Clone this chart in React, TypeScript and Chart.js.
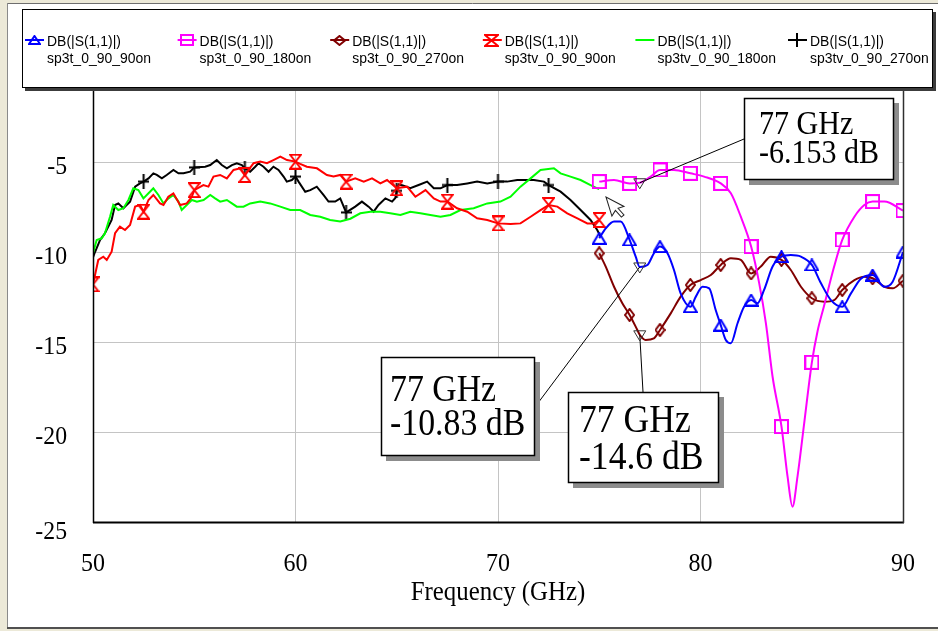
import React, { useEffect, useRef } from 'react';
import { Chart, registerables } from 'chart.js';

Chart.register(...registerables);

type Pt = [number, number];

// |S11| in dB versus frequency (GHz) for each switch state
const sp3t_0_90_90on: Pt[] = [
  [75, -9.24], [75.32, -8.69], [75.73, -8.31], [76.06, -8.31], [76.5, -9.33], [76.8, -10.26],
  [77, -10.83], [77.38, -10.72], [77.7, -10.07], [78, -9.7], [78.37, -10.07], [78.69, -11.0],
  [79.02, -12.3], [79.5, -13.04], [79.77, -12.48], [80.1, -11.93], [80.43, -12.02], [80.75, -13.22],
  [81, -14.06], [81.25, -14.89], [81.5, -15.07], [81.83, -13.96], [82.15, -13.04], [82.5, -12.67],
  [82.81, -12.85], [83.14, -12.11], [83.56, -10.81], [84, -10.26], [84.46, -10.17], [84.96, -10.26],
  [85.5, -10.72], [85.95, -11.74], [86.44, -12.67], [87, -13.04], [87.43, -12.3], [87.92, -11.48],
  [88.5, -11.28], [89.08, -11.93], [89.49, -11.65], [90, -10.0],
];

const sp3t_0_90_180on: Pt[] = [
  [75, -6.09], [75.73, -6.0], [76.5, -6.19], [77, -6.153], [77.54, -5.81], [78, -5.44],
  [78.69, -5.44], [79.5, -5.63], [80.18, -5.81], [81, -6.19], [81.5, -6.74], [81.99, -8.04],
  [82.5, -9.7], [82.9, -11.74], [83.23, -13.96], [83.56, -16.93], [84, -19.7], [84.3, -22.48],
  [84.54, -24.15], [84.79, -22.48], [85.12, -19.52], [85.5, -16.13], [85.78, -14.4], [86.1, -13.0],
  [86.6, -10.81], [87, -9.33], [87.6, -8.04], [88.09, -7.39], [88.5, -7.2], [89.08, -7.2], [90, -7.7],
];

const sp3t_0_90_270on: Pt[] = [
  [75, -10.07], [75.32, -10.81], [75.73, -11.93], [76.14, -12.85], [76.5, -13.5], [76.88, -14.33],
  [77, -14.6], [77.29, -14.89], [77.7, -14.8], [78, -14.33], [78.53, -13.41], [79.02, -12.48],
  [79.5, -11.83], [80.01, -11.56], [80.51, -11.28], [81, -10.72], [81.5, -10.35], [81.99, -10.44],
  [82.5, -11.19], [82.98, -10.81], [83.47, -10.26], [84, -10.44], [84.46, -11.0], [84.96, -11.93],
  [85.5, -12.57], [86.11, -12.76], [86.6, -12.67], [87, -12.11], [87.6, -11.56], [88.09, -11.37],
  [88.5, -11.46], [89.08, -11.93], [89.49, -12.02], [90, -11.6],
];

const sp3tv_0_90_90on: Pt[] = [
  [50, -11.8], [50.26, -10.44], [50.51, -10.26], [50.68, -10.44], [50.92, -9.98], [51.09, -8.96],
  [51.33, -8.59], [51.58, -8.78], [51.83, -8.5], [52.08, -7.48], [52.32, -7.39], [52.5, -7.76],
  [52.74, -7.11], [52.98, -6.83], [53.31, -7.3], [53.48, -7.39], [53.72, -6.93], [53.97, -6.74],
  [54.3, -7.39], [54.63, -7.3], [54.88, -6.93], [55, -6.56], [55.45, -6.28], [55.7, -6.37],
  [55.95, -5.81], [56.28, -5.72], [56.61, -5.91], [56.94, -5.44], [57.27, -5.35], [57.5, -5.72],
  [57.93, -5.07], [58.26, -4.98], [58.59, -5.07], [58.91, -4.89], [59.25, -4.7], [59.58, -4.89],
  [60, -4.98], [60.23, -5.1], [60.56, -5.26], [61.06, -5.35], [61.55, -5.72], [61.88, -5.81],
  [62.21, -5.72], [62.5, -6.09], [62.95, -5.91], [63.37, -6.09], [63.78, -5.91], [64.19, -6.19],
  [64.52, -6.0], [65, -6.46], [65.51, -6.37], [65.92, -6.93], [66.42, -6.56], [66.83, -7.02],
  [67.16, -7.2], [67.5, -7.2], [67.98, -7.57], [68.48, -7.76], [68.97, -8.13], [69.47, -8.22],
  [70, -8.41], [70.62, -8.44], [71.11, -8.41], [71.61, -8.04], [72.1, -7.67], [72.5, -7.39],
  [72.93, -7.48], [73.42, -7.85], [73.92, -8.13], [74.41, -8.41], [74.74, -8.41], [75, -8.22],
];

const sp3tv_0_90_180on: Pt[] = [
  [50, -10.07], [50.18, -9.33], [50.43, -9.24], [50.59, -8.96], [50.84, -8.04], [51.0, -7.39],
  [51.25, -7.67], [51.5, -7.57], [51.75, -7.11], [51.99, -6.46], [52.24, -6.56], [52.49, -7.02],
  [52.74, -6.74], [52.98, -6.46], [53.23, -6.83], [53.48, -7.3], [53.73, -7.02], [53.97, -6.83],
  [54.22, -7.2], [54.38, -7.67], [54.63, -7.39], [54.88, -7.11], [55.13, -7.2], [55.46, -7.11],
  [55.79, -6.83], [56.03, -7.02], [56.28, -7.2], [56.61, -7.11], [56.86, -7.3], [57.1, -7.48],
  [57.43, -7.48], [57.76, -7.3], [58.26, -7.2], [58.75, -7.3], [59.25, -7.48], [59.74, -7.67],
  [60.23, -7.67], [60.73, -7.94], [61.22, -8.04], [61.71, -8.22], [62.21, -8.31], [62.71, -8.15],
  [63.2, -7.85], [63.7, -7.76], [64.19, -7.76], [64.68, -7.85], [65.18, -7.94], [65.67, -7.76],
  [66.17, -7.85], [66.66, -7.94], [67.16, -8.04], [67.65, -7.94], [68.15, -7.67], [68.8, -7.57],
  [69.47, -7.3], [70.12, -7.2], [70.62, -6.93], [71.11, -6.37], [71.61, -5.91], [72.1, -5.44],
  [72.76, -5.35], [73.09, -5.63], [73.58, -5.81], [74.08, -6.0], [74.57, -6.28], [74.9, -6.46],
  [75, -6.5],
];

const sp3tv_0_90_270on: Pt[] = [
  [50, -10.3], [50.1, -10.0], [50.35, -9.33], [50.59, -8.96], [50.92, -8.22], [51.09, -7.39],
  [51.25, -7.3], [51.5, -7.57], [51.66, -7.39], [51.83, -7.2], [52.08, -6.37], [52.32, -6.19],
  [52.5, -6.09], [52.74, -5.91], [52.98, -5.63], [53.15, -5.72], [53.4, -5.91], [53.64, -5.72],
  [53.97, -5.44], [54.22, -5.63], [54.47, -5.63], [54.8, -5.54], [55, -5.3], [55.54, -5.26],
  [55.79, -5.17], [56.11, -4.89], [56.36, -5.17], [56.61, -5.35], [56.86, -5.17], [57.1, -5.07],
  [57.35, -5.17], [57.5, -5.35], [57.76, -5.54], [58.01, -5.26], [58.17, -5.07], [58.42, -5.26],
  [58.67, -5.54], [58.91, -5.26], [59.16, -5.44], [59.41, -5.81], [59.57, -6.09], [59.82, -6.0],
  [60, -5.81], [60.15, -6.09], [60.48, -6.65], [60.73, -6.56], [61.05, -6.37], [61.38, -6.83],
  [61.63, -7.2], [61.96, -7.2], [62.21, -7.02], [62.5, -7.8], [62.95, -7.48], [63.28, -7.2],
  [63.61, -7.48], [63.86, -7.76], [64.1, -7.39], [64.44, -7.02], [64.77, -7.2], [64.93, -7.0],
  [65, -6.6], [65.1, -6.25], [65.3, -6.3], [65.67, -6.46], [66.08, -6.28], [66.5, -6.09],
  [66.83, -6.46], [67.16, -6.46], [67.5, -6.28], [67.98, -6.28], [68.48, -6.19], [68.97, -6.09],
  [69.47, -6.19], [70, -6.09], [70.45, -6.09], [70.95, -6.0], [71.77, -6.0], [72.27, -6.09],
  [72.5, -6.28], [73.09, -6.65], [73.58, -7.11], [74.08, -7.67], [74.57, -8.22], [74.9, -8.78],
  [75.07, -9.15],
];

// frequencies carrying a symbol on each trace
const sp3tMarkFreqs = [75, 76.5, 78, 79.5, 81, 82.5, 84, 85.5, 87, 88.5, 90];
const sp3tvMarkFreqs = [50, 52.5, 55, 57.5, 60, 62.5, 65, 67.5, 70, 72.5, 75];
const sp3tv270MarkFreqs = [52.5, 55, 57.5, 60, 62.5, 65, 67.5, 70, 72.5];

const xTickValues = [50, 60, 70, 80, 90];
const yTickValues = [-5, -10, -15, -20, -25];
const xAxisTitle = 'Frequency (GHz)';
const measureLabel = 'DB(|S(1,1)|)';
const seriesNames = [
  'sp3t_0_90_90on', 'sp3t_0_90_180on', 'sp3t_0_90_270on',
  'sp3tv_0_90_90on', 'sp3tv_0_90_180on', 'sp3tv_0_90_270on',
];
const seriesColors = ['#0000ff', '#ff00ff', '#800000', '#ff0000', '#00ff00', '#000000'];
const seriesData = [sp3t_0_90_90on, sp3t_0_90_180on, sp3t_0_90_270on, sp3tv_0_90_90on, sp3tv_0_90_180on, sp3tv_0_90_270on];
const seriesMarks = [sp3tMarkFreqs, sp3tMarkFreqs, sp3tMarkFreqs, sp3tvMarkFreqs, [], sp3tv270MarkFreqs];
const seriesSymbols = ['triangle', 'square', 'diamond', 'hourglass', 'none', 'cross'];

// marker readouts: series index and frequency
const readoutSeries = [1, 0, 2];
const readoutFreqs = [77, 77, 77];

type Box = { x: number; y: number; w: number; h: number; ax: number; ay: number; font: number; sx: number; tx: number; b1: number; b2: number };
const readoutBoxes: Box[] = [
  { x: 744, y: 98, w: 150, h: 82, ax: 744, ay: 139, font: 33, sx: 0.91, tx: 15, b1: 36, b2: 65 },
  { x: 381, y: 357, w: 154, h: 99, ax: 535, ay: 407, font: 38, sx: 0.89, tx: 9, b1: 44, b2: 78 },
  { x: 568, y: 392, w: 151, h: 91, ax: 643, ay: 392, font: 40, sx: 0.89, tx: 11, b1: 40, b2: 77 },
];

const symbolSizes: Record<string, [number, number]> = {
  triangle: [15, 13], square: [15, 15], diamond: [11, 14], hourglass: [13, 16], cross: [11, 15],
};
const legendSymbolSizes: Record<string, [number, number]> = {
  triangle: [13, 10], square: [14, 12], diamond: [13, 11], hourglass: [15, 13], cross: [16, 14],
};

function makeSymbol(kind: string, color: string, w: number, h: number, lw = 2): HTMLCanvasElement {
  const c = document.createElement('canvas');
  c.width = w;
  c.height = h;
  const g = c.getContext('2d')!;
  g.strokeStyle = color;
  g.lineWidth = lw;
  const m = lw / 2;
  g.beginPath();
  if (kind === 'triangle') {
    g.moveTo(w / 2, m); g.lineTo(w - m, h - m); g.lineTo(m, h - m); g.closePath();
  } else if (kind === 'square') {
    g.rect(m, m, w - 2 * m, h - 2 * m);
  } else if (kind === 'diamond') {
    g.moveTo(w / 2, m); g.lineTo(w - m, h / 2); g.lineTo(w / 2, h - m); g.lineTo(m, h / 2); g.closePath();
  } else if (kind === 'hourglass') {
    g.moveTo(m, m); g.lineTo(w - m, m); g.lineTo(m, h - m); g.lineTo(w - m, h - m); g.closePath();
  } else if (kind === 'cross') {
    g.moveTo(w / 2, 0); g.lineTo(w / 2, h); g.moveTo(0, h / 2); g.lineTo(w, h / 2);
  }
  g.stroke();
  return c;
}

function drawText(ctx: CanvasRenderingContext2D, s: string, x: number, y: number, font: string, align: CanvasTextAlign, sx = 1) {
  ctx.save();
  ctx.font = font;
  ctx.fillStyle = '#000';
  ctx.textAlign = align;
  ctx.textBaseline = 'alphabetic';
  ctx.translate(x, y);
  ctx.scale(sx, 1);
  ctx.fillText(s, 0, 0);
  ctx.restore();
}

function line(ctx: CanvasRenderingContext2D, x1: number, y1: number, x2: number, y2: number, color: string, width: number) {
  ctx.save();
  ctx.strokeStyle = color;
  ctx.lineWidth = width;
  ctx.beginPath();
  ctx.moveTo(x1, y1);
  ctx.lineTo(x2, y2);
  ctx.stroke();
  ctx.restore();
}

export default function App() {
  const canvasRef = useRef<HTMLCanvasElement | null>(null);

  useEffect(() => {
    const canvas = canvasRef.current;
    if (!canvas) return;

    const chartSymbols = seriesSymbols.map((k, i) =>
      k === 'none' ? null : makeSymbol(k, seriesColors[i], symbolSizes[k][0], symbolSizes[k][1]));
    const legendSymbols = seriesSymbols.map((k, i) =>
      k === 'none' ? null : makeSymbol(k, seriesColors[i], legendSymbolSizes[k][0], legendSymbolSizes[k][1]));

    const smooth = [true, true, true, false, false, false];
    const datasets = seriesData.map((d, i) => ({
      label: seriesNames[i],
      data: d.map(([x, y]) => ({ x, y })),
      borderColor: seriesColors[i],
      borderWidth: 2,
      backgroundColor: 'rgba(0,0,0,0)',
      pointBackgroundColor: 'rgba(0,0,0,0)',
      pointBorderColor: seriesColors[i],
      pointStyle: chartSymbols[i] || 'circle',
      pointRadius: (c: any) => (chartSymbols[i] && seriesMarks[i].includes(c.raw.x) ? 6 : 0),
      cubicInterpolationMode: smooth[i] ? ('monotone' as const) : ('default' as const),
      tension: 0,
      clip: 0,
      fill: false,
    }));

    const framePlugin = {
      id: 'frame',
      beforeDraw(chart: any) {
        const ctx: CanvasRenderingContext2D = chart.ctx;
        ctx.save();
        ctx.fillStyle = '#fff';
        ctx.fillRect(0, 0, 938, 631);
        ctx.fillStyle = '#ece9d8';
        ctx.fillRect(0, 0, 938, 3);
        ctx.fillRect(0, 0, 7, 631);
        ctx.fillRect(0, 629, 938, 2);
        ctx.restore();
        line(ctx, 7, 3.5, 938, 3.5, '#6e6e6e', 1);
        line(ctx, 7.5, 3, 7.5, 629, '#8a8a8a', 1);
        line(ctx, 7, 628, 938, 628, '#505050', 2);
      },
      afterDraw(chart: any) {
        const ctx: CanvasRenderingContext2D = chart.ctx;
        const xs = chart.scales.x;
        const ys = chart.scales.y;
        const a = chart.chartArea;

        // plot frame
        line(ctx, a.left + 0.5, a.top, a.left + 0.5, a.bottom + 1, '#000', 1.5);
        line(ctx, a.left, a.bottom + 0.5, a.right + 1, a.bottom + 0.5, '#000', 2);
        line(ctx, a.right + 0.5, a.top, a.right + 0.5, a.bottom + 1, '#303030', 1.5);

        // marker readouts
        readoutSeries.forEach((si, k) => {
          const f = readoutFreqs[k];
          const pt = seriesData[si].find((p) => p[0] === f)!;
          const px = xs.getPixelForValue(pt[0]);
          const py = ys.getPixelForValue(pt[1]);
          const b = readoutBoxes[k];
          line(ctx, b.ax, b.ay, px, py, '#000', 1);
          ctx.save();
          ctx.strokeStyle = '#333';
          ctx.lineWidth = 1;
          ctx.beginPath();
          ctx.moveTo(px - 6, py - 4);
          ctx.lineTo(px + 6, py - 4);
          ctx.lineTo(px, py + 6);
          ctx.closePath();
          ctx.stroke();
          ctx.fillStyle = '#8c8c8c';
          ctx.fillRect(b.x + 5, b.y + 5, b.w, b.h);
          ctx.fillStyle = '#fff';
          ctx.fillRect(b.x, b.y, b.w, b.h);
          ctx.strokeStyle = '#000';
          ctx.lineWidth = 1.5;
          ctx.strokeRect(b.x + 0.5, b.y + 0.5, b.w - 1, b.h - 1);
          ctx.restore();
          const font = `${b.font}px "Liberation Serif", serif`;
          drawText(ctx, `${pt[0]} GHz`, b.x + b.tx, b.y + b.b1, font, 'left', b.sx);
          drawText(ctx, `${pt[1]} dB`, b.x + b.tx, b.y + b.b2, font, 'left', b.sx);
        });

        // pointer arrow
        ctx.save();
        ctx.translate(606, 197);
        ctx.rotate(-0.3);
        ctx.scale(1.25, 1.25);
        ctx.beginPath();
        const arrow = [[0, 0], [0, 16], [4, 12.5], [7, 19], [9.5, 18], [6.5, 11.5], [11.5, 11.5]];
        arrow.forEach(([x, y], i) => (i ? ctx.lineTo(x, y) : ctx.moveTo(x, y)));
        ctx.closePath();
        ctx.fillStyle = '#fff';
        ctx.fill();
        ctx.strokeStyle = '#222';
        ctx.lineWidth = 0.8;
        ctx.stroke();
        ctx.restore();

        // axis labels
        const tickFont = '25px "Liberation Serif", serif';
        yTickValues.forEach((v) => {
          const y = ys.getPixelForValue(v) + 11.5 + (v === ys.min ? 5 : 0);
          drawText(ctx, String(v), 67, y, tickFont, 'right', 0.95);
        });
        xTickValues.forEach((v) => {
          drawText(ctx, String(v), xs.getPixelForValue(v), 571, tickFont, 'center', 0.96);
        });
        drawText(ctx, xAxisTitle, (a.left + a.right) / 2, 600, '27px "Liberation Serif", serif', 'center', 0.92);

        // legend panel
        const lx = 22, ly = 9, lw = 911, lh = 79;
        ctx.save();
        ctx.fillStyle = '#3c3c3c';
        ctx.fillRect(lx + 3, ly + 3, lw, lh);
        ctx.fillStyle = '#fff';
        ctx.fillRect(lx, ly, lw, lh);
        ctx.strokeStyle = '#000';
        ctx.lineWidth = 1;
        ctx.strokeRect(lx + 0.5, ly + 0.5, lw - 1, lh - 1);
        ctx.restore();
        const legFont = '15px "Liberation Sans", Arial, sans-serif';
        seriesNames.forEach((name, i) => {
          const tx = 47 + i * 152.6;
          line(ctx, tx - 22, 40, tx - 3, 40, seriesColors[i], 2);
          const sym = legendSymbols[i];
          if (sym) ctx.drawImage(sym, Math.round(tx - 13 - sym.width / 2), Math.round(40 - sym.height / 2));
          drawText(ctx, measureLabel, tx, 45.5, legFont, 'left', 0.93);
          drawText(ctx, name, tx, 63, legFont, 'left', 0.93);
        });
      },
    };

    const chart = new Chart(canvas, {
      type: 'line',
      data: { datasets: datasets as any },
      options: {
        animation: false,
        responsive: false,
        events: [],
        layout: { padding: { left: 0, right: 35, top: 72, bottom: 0 } },
        plugins: { legend: { display: false }, tooltip: { enabled: false } },
        scales: {
          x: {
            type: 'linear',
            min: 50,
            max: 90,
            ticks: { display: false, stepSize: 10 },
            grid: {
              drawTicks: false,
              lineWidth: 1,
              color: (c: any) => (c.tick && (c.tick.value === 50 || c.tick.value === 90) ? 'rgba(0,0,0,0)' : '#c4c4c4'),
            },
            border: { display: false },
            afterFit: (s: any) => { s.height = 109; },
          },
          y: {
            type: 'linear',
            min: -25,
            max: 0,
            ticks: { display: false, stepSize: 5 },
            grid: {
              drawTicks: false,
              lineWidth: 1,
              color: (c: any) => (c.tick && c.tick.value === -25 ? 'rgba(0,0,0,0)' : '#c4c4c4'),
            },
            border: { display: false },
            afterFit: (s: any) => { s.width = 93; },
          },
        },
      } as any,
      plugins: [framePlugin],
    });

    return () => chart.destroy();
  }, []);

  return (
    <div style={{ position: 'fixed', left: 0, top: 0, width: 938, height: 631, background: '#fff' }}>
      <canvas ref={canvasRef} width={938} height={631} style={{ width: 938, height: 631, display: 'block' }} />
    </div>
  );
}
